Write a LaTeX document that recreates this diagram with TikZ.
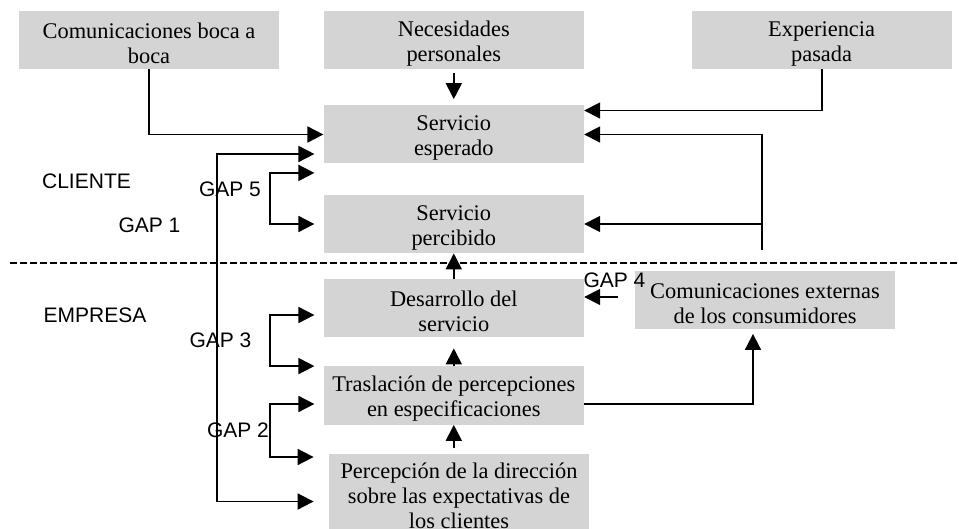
\documentclass[tikz,border=0pt]{standalone}
\usepackage{fontspec}
\setmainfont{Liberation Serif}
\setsansfont{Liberation Sans}
\usetikzlibrary{positioning}
\usetikzlibrary{arrows.meta}
\definecolor{cajagris}{RGB}{212,212,212}
\newcommand{\alto}{\rule{0pt}{11pt}}

\begin{document}
\begin{tikzpicture}[
		x=0.5pt, y=-0.5pt,
		n/.style={fill=cajagris, minimum width=130pt, minimum height=29pt, inner sep=1pt, align=center, font=\fontsize{11.2}{12.5}\selectfont},
		l/.style={font=\sffamily\fontsize{10.5}{12}\selectfont, inner sep=0pt},
		a/.style={-{Triangle[length=8pt, width=8pt]}, line width=0.9pt},
		aa/.style={{Triangle[length=8pt, width=8pt]}-{Triangle[length=8pt, width=8pt]}, line width=0.9pt},
		div/.style={line width=1pt, dash pattern=on 3.5pt off 1.5pt},
	]
		\useasboundingbox (0,0) rectangle (959,529);

		\node[n] (Boca) at (149,40) {\alto Comunicaciones boca a\\boca};
		\node[n, right=22pt of Boca] (Nec) {\alto Necesidades\\personales};
		\node[n, right=53.5pt of Nec] (Exp) {\alto Experiencia\\pasada};
		\begin{scope}[on grid]
			\node[n, below=47.25pt of Nec] (Esp) {\alto Servicio\\esperado};
			\node[n, below=44.75pt of Esp] (Perc) {\alto Servicio\\percibido};
			\node[n, below=42pt of Perc] (Des) {\alto Desarrollo del\\servicio};
			\node[n, below=43.75pt of Des] (Tras) {\alto Traslación de percepciones\\en especificaciones};
		\end{scope}
		\node[n, anchor=north] (Dir) at (459,454) {\alto Percepción de la dirección\\sobre las expectativas de\\los clientes};
		\node[n] (Ext) at (765,300.5) {\alto Comunicaciones externas\\de los consumidores};

		\node[l] (Cli) at (86.5,181) {CLIENTE};
		\node[l] (Emp) at (95,315.5) {EMPRESA};
		\node[l] (Gap1) at (149.5,225) {GAP 1};
		\node[l] (Gap5) at (230,189.5) {GAP 5};
		\node[l] (Gap3) at (220.5,340) {GAP 3};
		\node[l] (Gap2) at (238,430.5) {GAP 2};
		\node[l] (Gap4) at (614.5,280) {GAP 4};

		% linea cliente / empresa
		\draw[div] (10,263) -- (959,263);

		% cliente
		\draw[a] (Boca) |- (Esp);
		\draw[a, shorten <=2pt, shorten >=3pt] (Nec) -- (Esp);
		\draw[a] (Exp) |- ([yshift=12pt]Esp.east);
		\coordinate (Fb) at (762,250);
		\draw[a] (Fb) |- (Esp);
		\draw[a] (Fb |- Perc) -- (Perc);

		% empresa
		\draw[a] (Des) -- (Perc);
		\draw[a, shorten >=5.5pt] (Tras) -- (Des);
		\draw[a, shorten <=3pt] (Tras |- Dir.north) -- (Tras);
		\draw[a, shorten >=2pt] ([yshift=-4.25pt]Tras.east) -| ([xshift=-6pt]Ext.south);
		\coordinate (G4) at ([yshift=5.5pt]Des.east);
		\draw[a, shorten <=8.5pt] (Ext.west |- G4) -- (G4);

		% gaps
		\coordinate (G1) at (217,330);
		\coordinate (G5) at (270,198);
		\coordinate (G3) at (270,340);
		\coordinate (G2) at (270,430);
		\draw[aa, shorten <=4.5pt, shorten >=7.5pt] ([yshift=-9.75pt]Esp.west) -| (G1) |- ([yshift=-4.5pt]Dir.west);
		\draw[aa, shorten <=4.5pt, shorten >=4.5pt] ([yshift=-4.5pt]Esp.south west) -| (G5) |- (Perc.west);
		\draw[aa, shorten <=4.5pt, shorten >=4.5pt] ([yshift=-3.5pt]Des.west) -| (G3) |- (Tras.north west);
		\draw[aa, shorten <=4.5pt, shorten >=7.5pt] ([yshift=-4.25pt]Tras.west) -| (G2) |- ([yshift=-1.5pt]Dir.north west);
	\end{tikzpicture}
\end{document}
